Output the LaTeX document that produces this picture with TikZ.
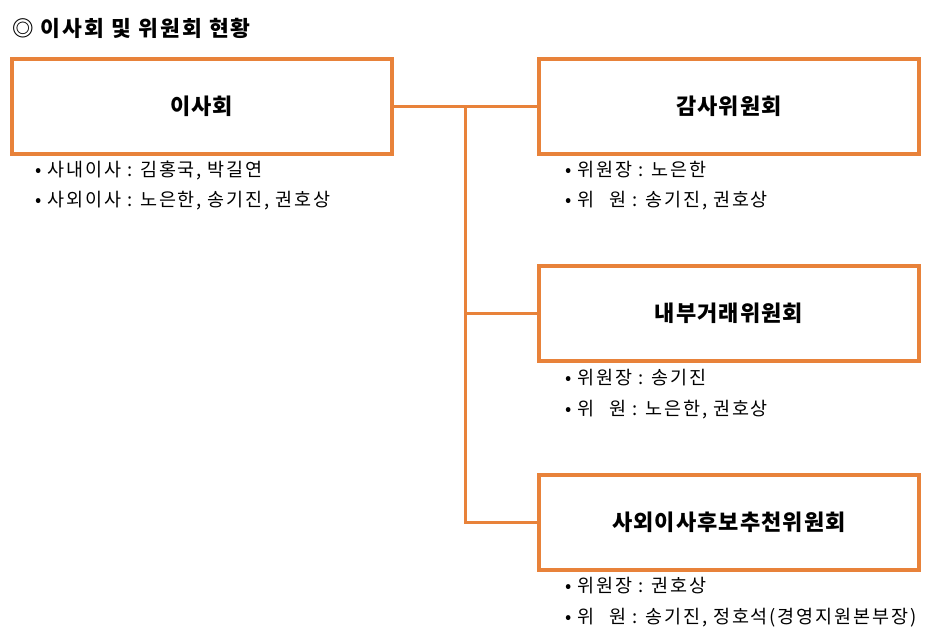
\documentclass[tikz,border=0pt]{standalone}
\usepackage{fontspec}
\setmainfont{Noto Sans CJK KR}
\newfontfamily\widefont[LetterSpace=10]{Noto Sans CJK KR}
\newfontfamily\boxfont[LetterSpace=5]{Noto Sans CJK KR}
\usetikzlibrary{positioning}
\definecolor{boxorange}{HTML}{E8823A}
\tikzset{
  board/.style={draw=boxorange, line width=4pt, minimum width=380pt, minimum height=95pt, font=\boxfont\bfseries\fontsize{22}{26}\selectfont},
  member/.style={anchor=west, font=\widefont\fontsize{18.5}{22}\selectfont, inner sep=0pt},
  link/.style={draw=boxorange, line width=3pt}
}
\begin{document}
\begin{tikzpicture}[x=1pt,y=-1pt]
    \useasboundingbox (0,0) rectangle (932,641);
    \node[anchor=west, font=\widefont\bfseries\fontsize{21.5}{25}\selectfont, inner sep=0pt] (title) at (12,28) {◎ 이사회 및 위원회 현황};
    % boards
    \node[board] (bod) at (201.5,106) {이사회};
    \node[board] (audit) at (729,106) {감사위원회};
    \node[board] (trade) at (729,313.5) {내부거래위원회};
    \node[board] (nomin) at (729,522) {사외이사후보추천위원회};
    % connectors
    \coordinate (hub) at (465,106);
    \coordinate (mid) at (465,313.5);
    \coordinate (bot) at (465,522);
    \draw[link] (bod.east) -- (audit.west);
    \draw[link] (hub) -- (bot) -- (nomin.west);
    \draw[link] (mid) -- (trade.west);
    % members
    \node[member] (b1) at (35,170) {• 사내이사 : 김홍국, 박길연};
    \node[member] (b2) at (35,201) {• 사외이사 : 노은한, 송기진, 권호상};
    \node[member] (a1) at (565,170) {• 위원장 : 노은한};
    \node[member] (a2) at (565,201) {• 위\hspace{0.8em}원 : 송기진, 권호상};
    \node[member] (t1) at (565,378) {• 위원장 : 송기진};
    \node[member] (t2) at (565,410) {• 위\hspace{0.8em}원 : 노은한, 권호상};
    \node[member] (n1) at (565,586) {• 위원장 : 권호상};
    \node[member] (n2) at (565,618) {• 위\hspace{0.8em}원 : 송기진, 정호석(경영지원본부장)};
\end{tikzpicture}
\end{document}
